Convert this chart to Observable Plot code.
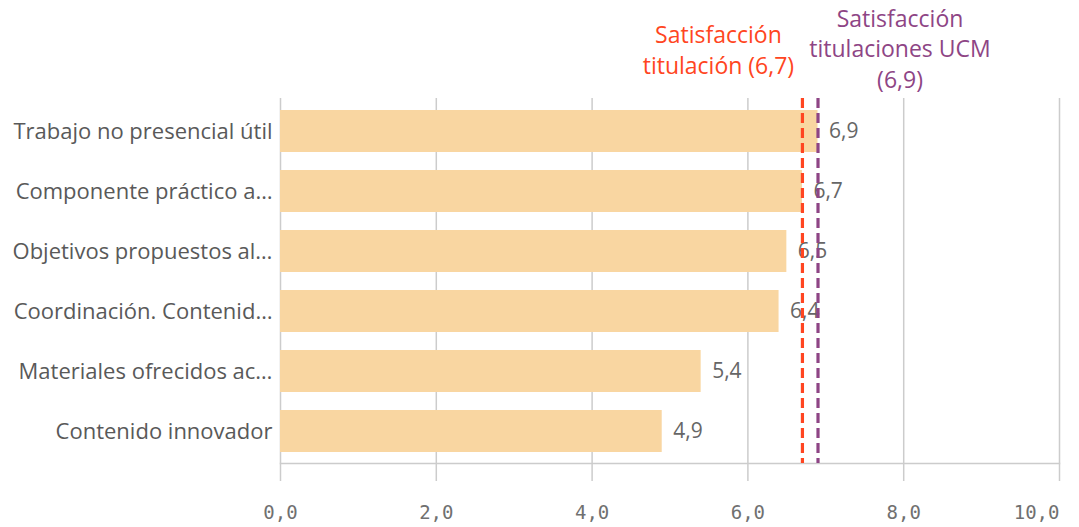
<!DOCTYPE html>
<html><head><meta charset="utf-8">
<script src="https://cdn.jsdelivr.net/npm/d3@7"></script>
<script src="https://cdn.jsdelivr.net/npm/@observablehq/plot@0.6"></script>
<style>body{margin:0;background:#fff;} svg{overflow:visible}</style>
</head><body><div id="chart"></div>
<script>
const categories = ["Trabajo no presencial útil","Componente práctico a…","Objetivos propuestos al…","Coordinación. Contenid…","Materiales ofrecidos ac…","Contenido innovador"];
const values = [6.9, 6.7, 6.5, 6.4, 5.4, 4.9];
const refTitulacion = 6.7;
const refUCM = 6.9;
const labelTitulacion = "Satisfacción\ntitulación (6,7)";
const labelUCM = "Satisfacción\ntitulaciones UCM\n(6,9)";
const xTicks = [0, 2, 4, 6, 8, 10];

const data = categories.map((c, i) => ({cat: c, value: values[i]}));
const fmt = d => d.toFixed(1).replace(".", ",");
const font = "'Open Sans', sans-serif";
const mono = "'DejaVu Sans Mono', monospace";

const chart = Plot.plot({
  width: 1079, height: 527,
  marginLeft: 280, marginRight: 20, marginTop: 98, marginBottom: 64,
  style: {fontFamily: font, background: "#fff"},
  x: {domain: [0, 10]},
  y: {domain: categories, paddingInner: 0.3, paddingOuter: 0.15, label: null},
  marks: [
    Plot.gridX(xTicks, {stroke: "#cccccc", strokeOpacity: 1, strokeWidth: 1.5}),
    Plot.frame({anchor: "bottom", stroke: "#cccccc", strokeWidth: 1.5}),
    Plot.barX(data, {x: "value", y: "cat", fill: "#F9D6A1"}),
    Plot.axisY({tickSize: 0, tickPadding: 8, fontSize: 22, fill: "#595959", fontFamily: font, label: null}),
    Plot.axisX({ticks: xTicks.slice(0, -1), tickSize: 18, tickPadding: 24, tickFormat: fmt, fontSize: 19, fontFamily: mono, fill: "#707070", stroke: "#cccccc", strokeWidth: 1.5, label: null}),
    Plot.axisX({ticks: xTicks.slice(-1), tickSize: 18, tickPadding: 24, tickFormat: fmt, fontSize: 19, fontFamily: mono, fill: "#707070", stroke: "#cccccc", strokeWidth: 1.5, textAnchor: "end", label: null}),
    Plot.text(data, {x: "value", y: "cat", text: d => fmt(d.value), textAnchor: "start", dx: 11, fill: "#666", fontSize: 21, fontFamily: font}),
    Plot.ruleX([refTitulacion], {stroke: "#FF4521", strokeWidth: 3.2, strokeDasharray: "10,5"}),
    Plot.ruleX([refUCM], {stroke: "#8E4585", strokeWidth: 3.2, strokeDasharray: "10,5"}),
    Plot.text([labelTitulacion], {x: refTitulacion, frameAnchor: "top", text: d => d, textAnchor: "middle", lineAnchor: "bottom", dx: -84, dy: -25, lineHeight: 1.32, fill: "#FF4521", fontSize: 23, fontFamily: font}),
    Plot.text([labelUCM], {x: refUCM, frameAnchor: "top", text: d => d, textAnchor: "middle", lineAnchor: "bottom", dx: 82, dy: -11, lineHeight: 1.32, fill: "#8E4585", fontSize: 23, fontFamily: font})
  ]
});
document.getElementById("chart").appendChild(chart);
</script></body></html>
